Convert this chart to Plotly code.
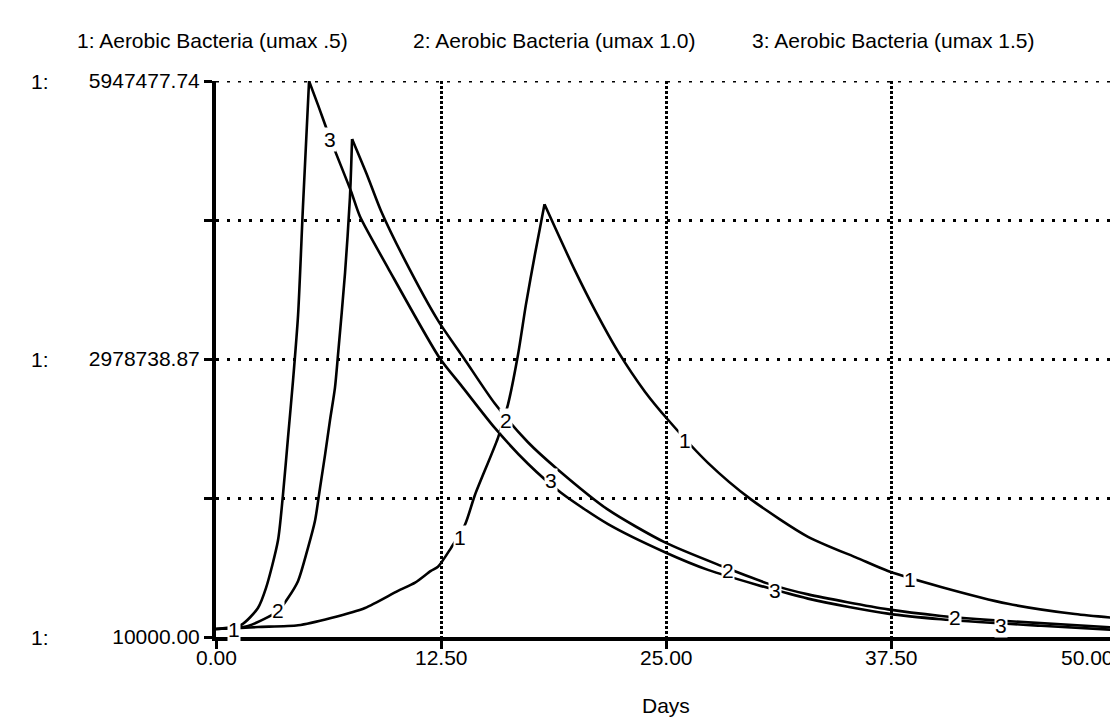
import plotly.graph_objects as go

# ---------------- data ----------------
series_names = [
    "1: Aerobic Bacteria (umax .5)",
    "2: Aerobic Bacteria (umax 1.0)",
    "3: Aerobic Bacteria (umax 1.5)",
]
series_ids = ["1", "2", "3"]

days_1 = [0.0, 1.39, 2.33, 4.56, 6.39, 8.28, 10.11, 11.06, 11.94, 12.33, 13.06, 13.83,
          14.39, 15.67, 16.22, 16.78, 17.22, 17.72, 18.25, 18.83, 19.94, 21.06, 22.33,
          23.83, 25.11, 27.33, 29.72, 32.89, 35.67, 37.33, 40.28, 44.0, 47.72, 50.0]
bact_1 = [95000, 106000, 117000, 135000, 213000, 320000, 502000, 590000, 716000, 760000,
          962000, 1208000, 1529000, 2139000, 2492000, 3027000, 3562000, 4097000, 4632000,
          4385000, 3925000, 3498000, 3060000, 2630000, 2330000, 1870000, 1480000, 1080000,
          850000, 715000, 545000, 365000, 255000, 213000]

days_2 = [0.0, 1.78, 3.44, 4.0, 4.56, 5.11, 5.5, 5.78, 6.06, 6.33, 6.61, 6.78, 7.17, 7.44,
          7.56, 8.44, 9.17, 10.5, 12.33, 13.78, 15.5, 17.33, 19.0, 21.78, 24.94, 28.06,
          30.67, 32.89, 37.33, 40.28, 43.06, 50.0]
bact_2 = [95000, 128000, 288000, 427000, 609000, 962000, 1251000, 1604000, 1957000,
          2321000, 2674000, 3027000, 3900000, 4700000, 5327000, 4920000, 4560000, 4032000,
          3391000, 2984000, 2500000, 2090000, 1797000, 1370000, 1020000, 770000, 580000,
          465000, 305000, 235000, 190000, 110000]

days_3 = [0.0, 1.39, 2.33, 2.78, 3.44, 3.72, 4.0, 4.28, 4.56, 4.83, 5.17, 5.67, 6.33, 7.5,
          8.0, 9.56, 12.44, 13.61, 15.5, 17.33, 19.17, 21.78, 24.94, 27.33, 32.89, 37.33,
          40.28, 45.83, 50.0]
bact_3 = [95000, 138000, 320000, 534000, 1037000, 1529000, 2139000, 2750000, 3450000,
          4600000, 5947000, 5690000, 5340000, 4770000, 4500000, 3950000, 2984000, 2700000,
          2240000, 1860000, 1550000, 1215000, 915000, 727000, 420000, 260000, 200000,
          130000, 85000]

# curve number labels placed along each line (day, value)
label_days = [[1.0, 13.56, 26.06, 38.56],
              [3.44, 16.11, 28.44, 41.06],
              [6.33, 18.61, 31.06, 43.61]]
label_vals = [[85000, 1069000, 2107000, 620000],
              [288000, 2321000, 716000, 213000],
              [5327000, 1679000, 502000, 138000]]

Y_MIN = 10000.00
Y_MAX = 5947477.74
y_tickvals = [10000.00, 1494369.44, 2978738.87, 4463108.31, 5947477.74]
y_ticktext = ["10000.00", "", "2978738.87", "", "5947477.74"]
y_label_vals = [10000.00, 2978738.87, 5947477.74]
x_tickvals = [0, 12.5, 25, 37.5, 50]
x_ticktext = ["0.00", "12.50", "25.00", "37.50", "50.00"]
x_title = "Days"

FONT = "Liberation Sans, Arial, sans-serif"
FS = 21
H_DASH = "3px,8px"   # horizontal grid lines: sparse dots
V_DASH = "3px,2px"   # vertical grid lines: dense dots

fig = go.Figure()
for d, v in [(days_1, bact_1), (days_2, bact_2), (days_3, bact_3)]:
    pk = v.index(max(v))
    # growth and die-off parts drawn separately so the peak stays sharp
    for xs, ys in [(d[:pk + 1], v[:pk + 1]), (d[pk:], v[pk:])]:
        fig.add_trace(go.Scatter(x=xs, y=ys, mode="lines",
                                 line=dict(color="black", width=2.6,
                                           shape="spline", smoothing=0.7),
                                 showlegend=False, hoverinfo="skip"))

annotations = []
# numbers on the curves
for sid, lds, lvs in zip(series_ids, label_days, label_vals):
    for ld, lv in zip(lds, lvs):
        annotations.append(dict(x=ld, y=lv, xref="x", yref="y", text=sid,
                                showarrow=False, bgcolor="white", borderpad=0,
                                font=dict(family=FONT, size=FS, color="black")))
# series headers at top
header_x = [-0.157, 0.217, 0.593]
for name, hx in zip(series_names, header_x):
    annotations.append(dict(x=hx, y=1.072, xref="paper", yref="paper", text=name,
                            xanchor="left", yanchor="middle", showarrow=False,
                            font=dict(family=FONT, size=FS, color="black")))
# "1:" prefixes on the y labels
for yv in y_label_vals:
    annotations.append(dict(x=-0.196, y=yv, xref="paper", yref="y", text="1:",
                            xanchor="center", yanchor="middle", showarrow=False,
                            font=dict(family=FONT, size=FS, color="black")))
# x tick labels
for xv, xt in zip(x_tickvals, x_ticktext):
    annotations.append(dict(x=xv, y=-0.036, xref="x", yref="paper", text=xt,
                            xanchor="right" if xv == x_tickvals[-1] else "center",
                            yanchor="middle", showarrow=False,
                            font=dict(family=FONT, size=FS, color="black")))
annotations.append(dict(x=25, y=-0.124, xref="x", yref="paper", text=x_title,
                        xanchor="center", yanchor="middle", showarrow=False,
                        font=dict(family=FONT, size=FS, color="black")))

# grid lines at the far edges (plotly hides them at the range ends)
shapes = [
    dict(type="line", xref="x", yref="y", x0=0, x1=x_tickvals[-1], y0=Y_MAX, y1=Y_MAX,
         line=dict(color="black", width=3, dash=H_DASH), layer="below"),
    dict(type="line", xref="x", yref="y", x0=x_tickvals[-1], x1=x_tickvals[-1],
         y0=Y_MIN, y1=Y_MAX, line=dict(color="black", width=3, dash=V_DASH),
         layer="below"),
]

fig.update_layout(
    width=1118, height=721,
    margin=dict(l=208, r=10, t=73, b=92),
    paper_bgcolor="white", plot_bgcolor="white",
    annotations=annotations, shapes=shapes,
    font=dict(family=FONT, size=FS, color="black"),
)
fig.update_xaxes(range=[0, 50], tickvals=x_tickvals, ticktext=[""] * 5,
                 showgrid=True, gridcolor="black", griddash=V_DASH, gridwidth=3,
                 showline=True, linecolor="black", linewidth=4,
                 ticks="outside", ticklen=8, tickwidth=3, tickcolor="black",
                 zeroline=False, fixedrange=True)
fig.update_yaxes(range=[Y_MIN, Y_MAX], tickvals=y_tickvals, ticktext=y_ticktext,
                 showgrid=True, gridcolor="black", griddash=H_DASH, gridwidth=3,
                 showline=True, linecolor="black", linewidth=4,
                 ticks="outside", ticklen=8, tickwidth=3, tickcolor="black",
                 zeroline=False, fixedrange=True,
                 tickfont=dict(family=FONT, size=FS, color="black"))

fig.write_html("out.html")
